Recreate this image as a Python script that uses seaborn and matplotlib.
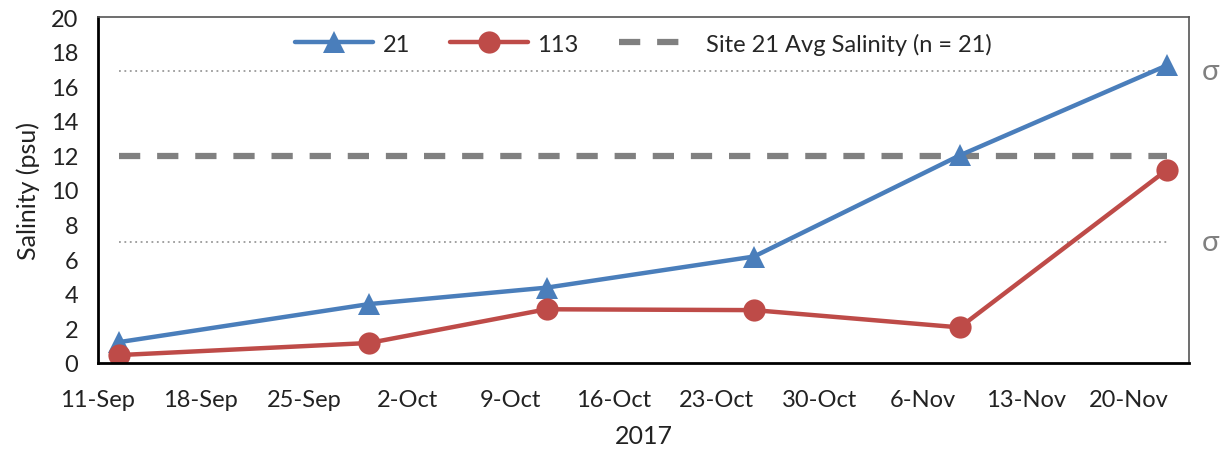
import matplotlib
matplotlib.use("Agg")
import matplotlib.pyplot as plt
import matplotlib.dates as mdates
import numpy as np
import pandas as pd
import seaborn as sns

# Sampling times and salinity (psu) at the two sites
sample_times = ["2017-09-12 11:00", "2017-09-29 10:00", "2017-10-11 11:00",
                "2017-10-25 13:00", "2017-11-08 12:00", "2017-11-22 13:00"]
site21 = [1.2, 3.4, 4.35, 6.15, 12.0, 17.2]
site113 = [0.45, 1.15, 3.1, 3.05, 2.05, 11.15]

avg21 = 11.95       # long-term mean salinity at site 21
sigma21 = 4.94      # one standard deviation around that mean

tick_dates = pd.date_range("2017-09-11", "2017-11-20", freq="7D")
y_ticks = list(range(0, 21, 2))

blue = "#4A7EBB"
red = "#BE4B48"
gray = "#808080"

sns.set_style("white")
plt.rcParams["font.family"] = ["Lato", "DejaVu Sans"]

times = pd.to_datetime(sample_times)
df = pd.DataFrame({
    "time": list(times) * 2,
    "salinity": site21 + site113,
    "site": ["21"] * len(site21) + ["113"] * len(site113),
})

fig = plt.figure(figsize=(12.24, 4.52), dpi=100)
ax = fig.add_axes([0.0798, 0.195, 0.8919, 0.765])

sns.lineplot(data=df, x="time", y="salinity", hue="site", style="site",
             hue_order=["21", "113"], style_order=["21", "113"],
             palette={"21": blue, "113": red},
             markers={"21": "^", "113": "o"}, dashes=False,
             linewidth=3.2, markersize=16, markeredgewidth=0,
             ax=ax, legend=False)

# Mean and +/- one sigma reference lines across the sampling period
avg_dash = (0, (3.4, 2.7))
x0, x1 = times[0], times[-1]
ax.hlines(avg21, x0, x1, colors=gray, linestyles=avg_dash,
          linewidth=4.5, zorder=1)
for level in (avg21 + sigma21, avg21 - sigma21):
    ax.hlines(level, x0, x1, colors="#9A9A9A", linestyles=(0, (1, 2)),
              linewidth=1.3, zorder=1)
    ax.text(1.011, level, "σ", transform=ax.get_yaxis_transform(),
            color=gray, fontsize=21, va="center", ha="left")

ax.set_xlim(pd.Timestamp("2017-09-11"), pd.Timestamp("2017-11-24 02:00"))
ax.set_ylim(0, 20)
ax.set_xticks(tick_dates)
ax.xaxis.set_major_formatter(mdates.DateFormatter("%-d-%b"))
ax.set_yticks(y_ticks)
ax.tick_params(axis="both", which="major", direction="out", length=7,
               width=2, color="black", labelsize=17, colors="#222222")
ax.tick_params(axis="x", pad=12)
ax.tick_params(axis="y", pad=7)

ax.set_xlabel("2017", fontsize=18, labelpad=10, color="#222222")
ax.set_ylabel("Salinity (psu)", fontsize=18, labelpad=8, color="#222222")

for side in ("left", "bottom"):
    ax.spines[side].set_color("black")
    ax.spines[side].set_linewidth(2)
for side in ("top", "right"):
    ax.spines[side].set_color("#555555")
    ax.spines[side].set_linewidth(1.2)

# Legend: the dashed key shows exactly two dashes
handles = [
    plt.Line2D([], [], color=blue, marker="^", markersize=16, linewidth=3.2,
               markeredgewidth=0),
    plt.Line2D([], [], color=red, marker="o", markersize=16, linewidth=3.2,
               markeredgewidth=0),
    plt.Line2D([], [], color=gray, linestyle=(0, (3.4, 2.7, 3.4, 12)),
               linewidth=4.5),
]
labels = ["21", "113", "Site 21 Avg Salinity (n = 21)"]
ax.legend(handles, labels, loc="upper center", bbox_to_anchor=(0.5, 1.0),
          ncol=3, frameon=False, fontsize=17, handlelength=3.3,
          columnspacing=1.7, handletextpad=0.4, borderaxespad=0.25)

fig.savefig("out.png", dpi=100)
